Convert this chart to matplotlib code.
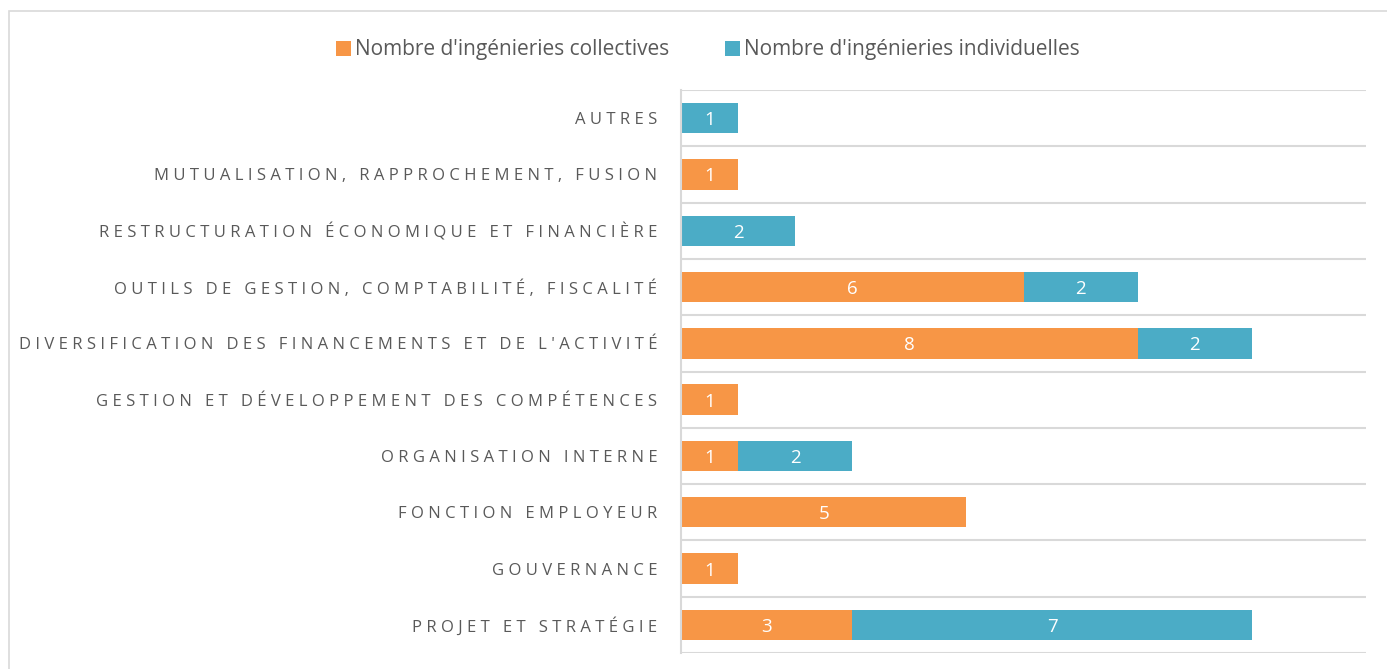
import matplotlib.pyplot as plt
from matplotlib.patches import Rectangle

plt.rcParams['font.family'] = ['Open Sans', 'DejaVu Sans']

categories = ["PROJET ET STRATÉGIE", "GOUVERNANCE", "FONCTION EMPLOYEUR",
              "ORGANISATION INTERNE", "GESTION ET DÉVELOPPEMENT DES COMPÉTENCES",
              "DIVERSIFICATION DES FINANCEMENTS ET DE L'ACTIVITÉ",
              "OUTILS DE GESTION, COMPTABILITÉ, FISCALITÉ",
              "RESTRUCTURATION ÉCONOMIQUE ET FINANCIÈRE",
              "MUTUALISATION, RAPPROCHEMENT, FUSION", "AUTRES"]
collectives = [3, 1, 5, 1, 1, 8, 6, 0, 1, 0]
individuelles = [7, 0, 0, 2, 0, 2, 2, 2, 0, 1]
series_names = ["Nombre d'ingénieries collectives", "Nombre d'ingénieries individuelles"]

ORANGE = '#F79646'
BLUE = '#4BACC6'
GREY = '#595959'


def spaced(s):
    # fake letter spacing
    return '   '.join(' '.join(w) for w in s.split(' '))


fig = plt.figure(figsize=(13.87, 6.69), dpi=100)
ax = fig.add_axes([681 / 1387, 1 - 653 / 669, (1366 - 681) / 1387, (653 - 90) / 669])

y = list(range(len(categories)))
h = 0.54
b1 = ax.barh(y, collectives, height=h, color=ORANGE, label=series_names[0])
b2 = ax.barh(y, individuelles, height=h, left=collectives, color=BLUE, label=series_names[1])

for bars, vals in ((b1, collectives), (b2, individuelles)):
    for bar, v in zip(bars, vals):
        if v:
            ax.text(bar.get_x() + bar.get_width() / 2, bar.get_y() + bar.get_height() / 2,
                    str(v), ha='center', va='center_baseline', color='white', fontsize=13.5)

ax.set_xlim(0, 12)
ax.set_ylim(-0.5, len(categories) - 0.5)
ax.set_xticks([])
ax.set_yticks(y)
ax.set_yticklabels([spaced(c) for c in categories], fontsize=12, color=GREY)
ax.tick_params(axis='y', length=0, pad=17)
ax.set_yticks([i + 0.5 for i in range(-1, len(categories))], minor=True)
ax.tick_params(axis='y', which='minor', length=0)
ax.grid(axis='y', which='minor', color='#D9D9D9', linewidth=1.5)
ax.set_axisbelow(True)
for s in ('top', 'right', 'bottom'):
    ax.spines[s].set_visible(False)
ax.spines['left'].set_color('#D9D9D9')
ax.spines['left'].set_linewidth(1.5)

fig.legend(handles=[b1, b2], loc='center', bbox_to_anchor=(708 / 1387, 1 - 50 / 669),
           ncol=2, frameon=False, fontsize=15, labelcolor=GREY,
           handlelength=0.7, handleheight=0.7, handletextpad=0.2, columnspacing=2.7)

fig.patches.append(Rectangle((9 / 1387, -0.1), 1.2, 1.1 - 11 / 669, transform=fig.transFigure,
                             fill=False, edgecolor='#D9D9D9', linewidth=1.2))

fig.savefig('out.png', dpi=100)
